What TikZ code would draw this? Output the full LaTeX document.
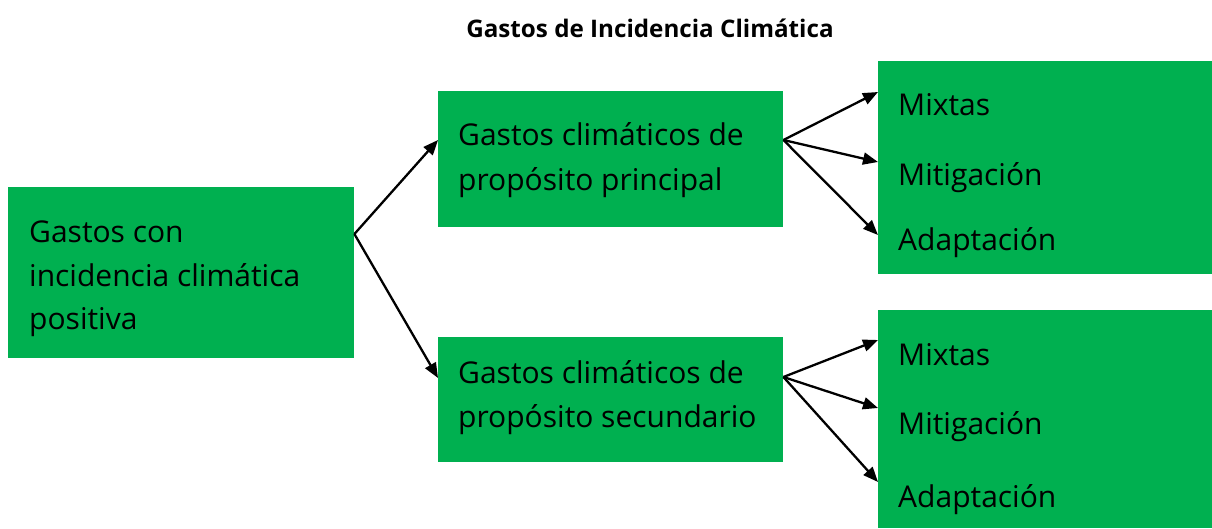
\documentclass[tikz,border=0pt]{standalone}
\usepackage{fontspec}
\setmainfont{Open Sans}
\usetikzlibrary{arrows.meta}
\definecolor{boxgreen}{HTML}{00B050}
\begin{document}
\begin{tikzpicture}[x=1pt,y=-1pt,
  gbox/.style={fill=boxgreen,draw=none,inner sep=0pt,anchor=north west},
  lbl/.style={anchor=base west,inner sep=0pt,font=\fontsize{30}{34}\selectfont},
  ttl/.style={anchor=base,inner sep=0pt,font=\fontsize{24.2}{28}\selectfont\bfseries},
  arr/.style={line width=2.3pt,-{Triangle[length=15pt,width=12pt]}}]
\useasboundingbox (0,0) rectangle (1212,528);
\node[ttl] (title) at (650,37) {Gastos de Incidencia Climática};
% boxes
\node[gbox,minimum width=346pt,minimum height=171pt] (L) at (8,187) {};
\node[gbox,minimum width=345pt,minimum height=136pt] (M1) at (438,91) {};
\node[gbox,minimum width=345pt,minimum height=125pt] (M2) at (438,337) {};
\node[gbox,minimum width=334pt,minimum height=213pt] (R1) at (878,61) {};
\node[gbox,minimum width=334pt,minimum height=218pt] (R2) at (878,310) {};
% texts
\node[lbl] (l1) at (29,242) {Gastos con};
\node[lbl] (l2) at (29,286) {incidencia climática};
\node[lbl] (l3) at (29,329) {positiva};
\node[lbl] (m1a) at (458,145) {Gastos climáticos de};
\node[lbl] (m1b) at (458,190) {propósito principal};
\node[lbl] (m2a) at (458,383) {Gastos climáticos de};
\node[lbl] (m2b) at (458,427) {propósito secundario};
\node[lbl] (r1a) at (898,115) {Mixtas};
\node[lbl] (r1b) at (898,185) {Mitigación};
\node[lbl] (r1c) at (898,250) {Adaptación};
\node[lbl] (r2a) at (898,365) {Mixtas};
\node[lbl] (r2b) at (898,434) {Mitigación};
\node[lbl] (r2c) at (898,507) {Adaptación};
% connector points
\coordinate (Lout) at (L.north east |- 0,234);
\coordinate (M1in) at (M1.north west |- 0,140);
\coordinate (M2in) at (M2.north west |- 0,378);
\coordinate (M1out) at (M1.north east |- 0,140);
\coordinate (M2out) at (M2.north east |- 0,377);
\coordinate (R1a) at (R1.north west |- 0,92);
\coordinate (R1b) at (R1.north west |- 0,162);
\coordinate (R1c) at (R1.north west |- 0,235);
\coordinate (R2a) at (R2.north west |- 0,340);
\coordinate (R2b) at (R2.north west |- 0,408);
\coordinate (R2c) at (R2.north west |- 0,482);
\draw[arr] (Lout) -- (M1in);
\draw[arr] (Lout) -- (M2in);
\draw[arr] (M1out) -- (R1a);
\draw[arr] (M1out) -- (R1b);
\draw[arr] (M1out) -- (R1c);
\draw[arr] (M2out) -- (R2a);
\draw[arr] (M2out) -- (R2b);
\draw[arr] (M2out) -- (R2c);
\end{tikzpicture}
\end{document}
